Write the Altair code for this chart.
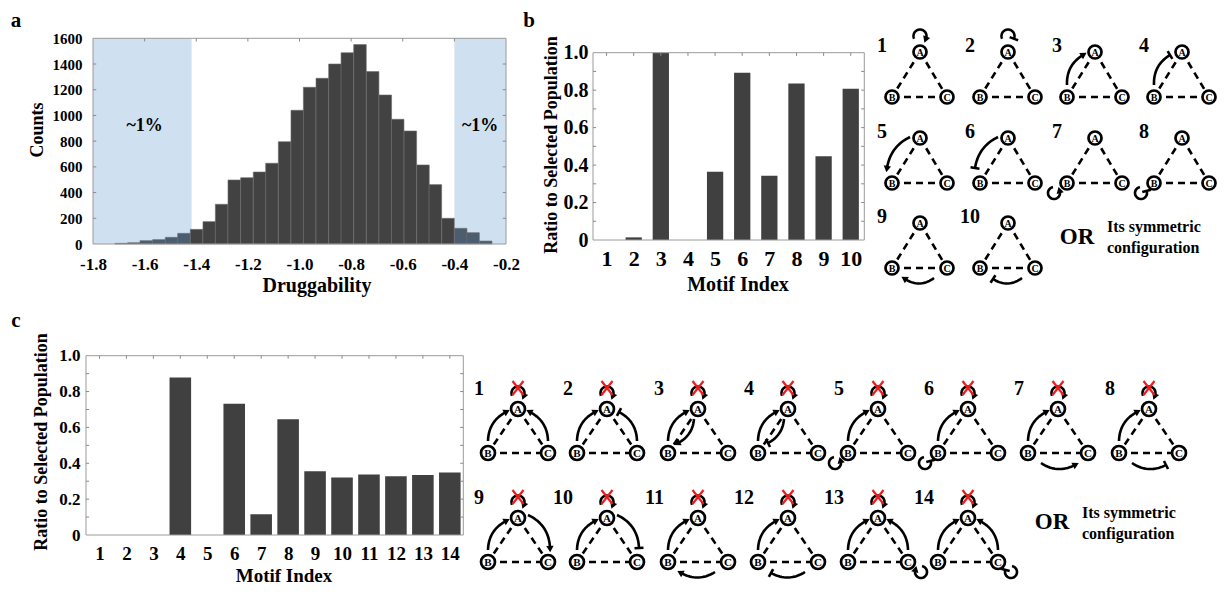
import math
import numpy as np
import pandas as pd
import altair as alt

FONT = "Liberation Serif"
W, H = 1212, 578

# ---------------- data ----------------
# panel a: histogram of druggability
hist_bin_left = [-1.715, -1.666, -1.618, -1.569, -1.520, -1.472, -1.423, -1.374, -1.326, -1.277,
                 -1.228, -1.179, -1.131, -1.082, -1.033, -0.985, -0.936, -0.887, -0.839, -0.790,
                 -0.741, -0.692, -0.644, -0.595, -0.546, -0.498, -0.449, -0.400, -0.352, -0.303]
hist_bin_width = 0.0487
hist_counts = [5, 10, 26, 34, 52, 83, 114, 174, 309, 498, 516, 560, 628, 796, 1040,
               1219, 1289, 1400, 1488, 1551, 1341, 1159, 970, 879, 615, 462, 200, 122, 88, 23]
hist_xticks = [-1.8, -1.6, -1.4, -1.2, -1.0, -0.8, -0.6, -0.4, -0.2]
hist_yticks = [0, 200, 400, 600, 800, 1000, 1200, 1400, 1600]
tail_lo = [-1.8, -0.4]
tail_hi = [-1.418, -0.2]
tail_label = ["~1%", "~1%"]
tail_label_x = [-1.6, -0.3]
tail_label_y = [915, 915]

# panel b
b_index = [1, 2, 3, 4, 5, 6, 7, 8, 9, 10]
b_ratio = [0.0, 0.014, 1.0, 0.0, 0.365, 0.893, 0.343, 0.836, 0.447, 0.808]
# panel c
c_index = [1, 2, 3, 4, 5, 6, 7, 8, 9, 10, 11, 12, 13, 14]
c_ratio = [0.0, 0.0, 0.0, 0.878, 0.0, 0.732, 0.116, 0.645, 0.355, 0.320, 0.338, 0.327, 0.335, 0.349]
ratio_ticks = [0, 0.2, 0.4, 0.6, 0.8, 1.0]
ratio_minor = [0.1, 0.2, 0.3, 0.4, 0.5, 0.6, 0.7, 0.8, 0.9]

# motif definitions (+ activation, - inhibition)
b_motif_edges = [["loopA+"], ["loopA-"], ["BA+"], ["BA-"], ["AB+"], ["AB-"],
                 ["loopB+"], ["loopB-"], ["CB+"], ["CB-"]]
c_motif_edges = [["BA+", "CA+"], ["BA+", "CA-"], ["BA+", "ABin+"], ["BA+", "ABin-"],
                 ["BA+", "loopB+"], ["BA+", "loopB-"], ["BA+", "BC+"], ["BA+", "BC-"],
                 ["BA+", "AC+"], ["BA+", "AC-"], ["BA+", "CB+"], ["BA+", "CB-"],
                 ["BA+", "CA+", "loopC+"], ["BA+", "CA+", "loopC-"]]

# ---------------- helpers ----------------
def lin(domain, rng):
    return alt.Scale(domain=domain, range=rng, nice=False, zero=False)


def lab_axis(orient, offset, values, size, pad, expr):
    return alt.Axis(orient=orient, offset=offset, values=values, labelFont=FONT,
                    labelFontSize=size, labelFontWeight="bold", labelColor="black",
                    labelPadding=pad, ticks=False, domain=False, grid=False,
                    labelFlush=False, labelOverlap=False, title=None, labelExpr=expr)


XA = lin([-1.8, -0.2], [85, 498])
YA = lin([0, 1600], [236, 30.3])
XB = lin([0.5, 10.5], [585, 856.3])
YB = lin([0, 1], [232, 44.7])
XC = lin([0.5, 14.5], [78, 455.3])
YC = lin([0, 1], [527, 347.7])
XS = lin([0, W], [0, W])
YS = lin([0, H], [0, H])

FRAME = "#9a9a9a"
TICK = "#8a8a8a"
BAR = "#404040"
LW = 2.6


def frame_layer(xs, ys, x0, x1, y0, y1):
    df = pd.DataFrame({"x0": [x0], "x1": [x1], "y0": [y0], "y1": [y1]})
    return alt.Chart(df).mark_rect(fillOpacity=0, stroke=FRAME, strokeWidth=1).encode(
        x=alt.X("x0:Q", scale=xs, axis=None), x2="x1:Q",
        y=alt.Y("y0:Q", scale=ys, axis=None), y2="y1:Q")


def rule_layer(xs, ys, rows, color=TICK, width=1.0):
    df = pd.DataFrame(rows, columns=["x", "x2", "y", "y2"])
    return alt.Chart(df).mark_rule(color=color, strokeWidth=width).encode(
        x=alt.X("x:Q", scale=xs, axis=None), x2="x2:Q",
        y=alt.Y("y:Q", scale=ys, axis=None), y2="y2:Q")


layers = []

# ---------------- panel a ----------------
shade_df = pd.DataFrame({"lo": tail_lo, "hi": tail_hi})
shade_df["y0"] = hist_yticks[0]
shade_df["y1"] = hist_yticks[-1]
layers.append(alt.Chart(shade_df).mark_rect(color="#cfe0f0").encode(
    x=alt.X("lo:Q", scale=XA, axis=None), x2="hi:Q",
    y=alt.Y("y0:Q", scale=YA, axis=None), y2="y1:Q"))

hist_df = pd.DataFrame({"left": hist_bin_left, "count": hist_counts})
hist_df["right"] = hist_df["left"] + hist_bin_width
hist_df["zero"] = 0
mid = hist_df["left"] + hist_bin_width / 2
hist_df["col"] = np.where((mid < tail_hi[0]) | (mid > tail_lo[1]), "#4c5d6f", "#424242")
layers.append(alt.Chart(hist_df).mark_rect(stroke="#6c6c6c", strokeWidth=0.6).encode(
    x=alt.X("left:Q", scale=XA,
            axis=lab_axis("bottom", 236 - H, hist_xticks, 17, 12,
                          "'-' + format(abs(datum.value), '.1f')")),
    x2="right:Q",
    y=alt.Y("zero:Q", scale=YA,
            axis=lab_axis("left", -85, hist_yticks, 15, 11, "format(datum.value, 'd')")),
    y2="count:Q",
    color=alt.Color("col:N", scale=None)))
layers.append(frame_layer(XA, YA, hist_xticks[0], hist_xticks[-1], hist_yticks[0], hist_yticks[-1]))
rows = []
for v in hist_yticks[1:-1]:
    rows.append((hist_xticks[0], hist_xticks[0] + 0.0125, v, v))
    rows.append((hist_xticks[-1], hist_xticks[-1] - 0.0125, v, v))
for v in hist_xticks[1:-1]:
    rows.append((v, v, hist_yticks[-1], hist_yticks[-1] - 25))
layers.append(rule_layer(XA, YA, rows))
tl_df = pd.DataFrame({"x": tail_label_x, "y": tail_label_y, "t": tail_label})
layers.append(alt.Chart(tl_df).mark_text(font=FONT, fontSize=18, fontWeight="bold", color="black").encode(
    x=alt.X("x:Q", scale=XA, axis=None), y=alt.Y("y:Q", scale=YA, axis=None), text="t:N"))


# ---------------- panels b and c (bars) ----------------
def bar_panel(idx, vals, xs, ys, half, bottom_px, left_px, xsize, xpad, ysize, ypad):
    df = pd.DataFrame({"i": idx, "v": vals})
    df["lo"] = df["i"] - half
    df["hi"] = df["i"] + half
    df["zero"] = 0.0
    out = [alt.Chart(df).mark_rect(color=BAR).encode(
        x=alt.X("lo:Q", scale=xs,
                axis=lab_axis("bottom", bottom_px - H, idx, xsize, xpad, "format(datum.value, 'd')")),
        x2="hi:Q",
        y=alt.Y("zero:Q", scale=ys,
                axis=lab_axis("left", -left_px, ratio_ticks, ysize, ypad,
                              "datum.value == 0 ? '0' : format(datum.value, '.1f')")),
        y2="v:Q")]
    x0, x1 = idx[0] - 0.5, idx[-1] + 0.5
    out.append(frame_layer(xs, ys, x0, x1, 0, 1))
    r = []
    for v in ratio_minor:
        r.append((x0, x0 + 0.115, v, v))
        r.append((x1, x1 - 0.115, v, v))
    for v in idx:
        r.append((v, v, 1.0, 1.0 - 0.017))
    out.append(rule_layer(xs, ys, r))
    return out


layers += bar_panel(b_index, b_ratio, XB, YB, 0.3, 232, 585, 22, 8, 20, 5)
layers += bar_panel(c_index, c_ratio, XC, YC, 0.4, 527, 78, 19, 9, 17, 6)


# ---------------- motif diagrams (canvas in page pixels) ----------------
def qbez(p0, p1, bulge, n=20):
    p0 = np.asarray(p0, float)
    p1 = np.asarray(p1, float)
    d = p1 - p0
    L = math.hypot(d[0], d[1])
    nrm = np.array([d[1], -d[0]]) / L
    ctrl = (p0 + p1) / 2 + nrm * 2 * bulge
    t = np.linspace(0, 1, n)[:, None]
    pts = (1 - t) ** 2 * p0 + 2 * (1 - t) * t * ctrl + t ** 2 * p1
    return pts, p1 - ctrl


def circ(c, r, t0, t1, n=28):
    t = np.radians(np.linspace(t0, t1, n))
    pts = np.stack([c[0] + r * np.cos(t), c[1] - r * np.sin(t)], axis=1)
    return pts, pts[-1] - pts[-2]


def edge_geom(kind, A, B, C):
    if kind == "loopA":
        return circ(A + np.array([0, -16]), 6.5, 205, -25)
    if kind == "loopB":
        return circ(B + np.array([-13, 10]), 6, 100, 380)
    if kind == "loopC":
        return circ(C + np.array([13, 10]), 6, 80, -200)
    table = {
        "BA": (B + [0, -12], A + [-12, 3], 5),
        "CA": (C + [0, -12], A + [12, 3], -5),
        "AB": (A + [-10, -1], B + [-5, -15], -5),
        "ABin": (A + [-4, 10], B + [10, -10], 4),
        "AC": (A + [10, -3], C + [2, -14], 6),
        "BC": (B + [13, 10], C + [-13, 12], -5),
        "CB": (C + [-13, 10], B + [13, 11], 5),
    }
    p0, p1, bulge = table[kind]
    return qbez(p0, p1, bulge)


line_rows, head_rows, tee_rows, node_rows, edge_rows, x_rows, lab_rows = [], [], [], [], [], [], []
gid = [0]


def add_motif(num, A, dxB, dxC, dy, kinds, node_size, letter_fs, crossed, lab_pos, lab_align):
    A = np.array(A, float)
    B = A + np.array([dxB, dy])
    C = A + np.array([dxC, dy])
    for P, Q in ((A, B), (A, C), (B, C)):
        edge_rows.append(dict(x=P[0], y=P[1], x2=Q[0], y2=Q[1]))
    ks = (["loopA+"] if crossed else []) + list(kinds)
    for k in ks:
        name, sign = k[:-1], k[-1]
        pts, tan = edge_geom(name, A, B, C)
        gid[0] += 1
        for i, (px, py) in enumerate(pts):
            line_rows.append(dict(g=gid[0], i=i, x=px, y=py))
        ex, ey = pts[-1]
        tl = math.hypot(tan[0], tan[1])
        ux, uy = tan[0] / tl, tan[1] / tl
        if sign == "+":
            head_rows.append(dict(x=ex + ux, y=ey + uy,
                                  ang=math.degrees(math.atan2(ux, -uy)) % 360))
        else:
            tee_rows.append(dict(x=ex - uy * 4.5, y=ey + ux * 4.5,
                                 x2=ex + uy * 4.5, y2=ey - ux * 4.5))
    for P, letter in ((A, "A"), (B, "B"), (C, "C")):
        node_rows.append(dict(x=P[0], y=P[1], s=node_size, t=letter, fs=letter_fs))
    if crossed:
        cx, cy = A[0], A[1] - 21
        x_rows.append(dict(x=cx - 5.5, y=cy - 7, x2=cx + 5.5, y2=cy + 7))
        x_rows.append(dict(x=cx + 5.5, y=cy - 7, x2=cx - 5.5, y2=cy + 7))
    lab_rows.append(dict(x=lab_pos[0], y=lab_pos[1], t=str(num), a=lab_align))


b_A_x = [912, 1000, 1087, 1174]
b_A_y = [44, 130, 215]
for k, kinds in enumerate(b_motif_edges):
    ax, ay = b_A_x[k % 4], b_A_y[k // 4]
    add_motif(k + 1, (ax, ay), -28, 27, 45, kinds, 170, 10, False, (ax - 38, ay - 6), "center")

c_A_x = [510, 599, 690, 780, 870, 960, 1050, 1141]
c_A_y = [401, 510]
for k, kinds in enumerate(c_motif_edges):
    ax, ay = c_A_x[k % 8], c_A_y[k // 8]
    add_motif(k + 1, (ax, ay), -30, 30, 44, kinds, 195, 11, True, (ax - 34, ay - 20), "right")


def cX(f):
    return alt.X(f, type="quantitative", scale=XS, axis=None)


def cY(f):
    return alt.Y(f, type="quantitative", scale=YS, axis=None)


layers.append(alt.Chart(pd.DataFrame(edge_rows)).mark_rule(
    color="black", strokeWidth=LW, strokeDash=[7, 5]).encode(
    x=cX("x"), y=cY("y"), x2="x2:Q", y2="y2:Q"))
layers.append(alt.Chart(pd.DataFrame(line_rows)).mark_line(
    color="black", strokeWidth=LW).encode(
    x=cX("x"), y=cY("y"), detail="g:N", order="i:Q"))
layers.append(alt.Chart(pd.DataFrame(head_rows)).mark_point(
    shape="triangle-up", filled=True, color="black", opacity=1, size=55).encode(
    x=cX("x"), y=cY("y"), angle=alt.Angle("ang:Q", scale=None)))
layers.append(alt.Chart(pd.DataFrame(tee_rows)).mark_rule(
    color="black", strokeWidth=LW).encode(
    x=cX("x"), y=cY("y"), x2="x2:Q", y2="y2:Q"))
layers.append(alt.Chart(pd.DataFrame(node_rows)).mark_point(
    shape="circle", filled=True, fill="white", stroke="black", strokeWidth=2.7, opacity=1).encode(
    x=cX("x"), y=cY("y"), size=alt.Size("s:Q", scale=None)))
layers.append(alt.Chart(pd.DataFrame(node_rows)).mark_text(
    font=FONT, fontWeight="bold", color="black", baseline="middle", dy=0.5).encode(
    x=cX("x"), y=cY("y"), text="t:N", size=alt.Size("fs:Q", scale=None)))
layers.append(alt.Chart(pd.DataFrame(x_rows)).mark_rule(
    color="#ee1c1c", strokeWidth=2.2).encode(
    x=cX("x"), y=cY("y"), x2="x2:Q", y2="y2:Q"))

lab_df = pd.DataFrame(lab_rows)
for al in ("center", "right"):
    layers.append(alt.Chart(lab_df[lab_df["a"] == al]).mark_text(
        font=FONT, fontSize=20, fontWeight="bold", color="black", align=al, baseline="middle").encode(
        x=cX("x"), y=cY("y"), text="t:N"))


def text_layer(rows, size, align="center", baseline="alphabetic", angle=0):
    df = pd.DataFrame(rows, columns=["x", "y", "t"])
    return alt.Chart(df).mark_text(font=FONT, fontSize=size, fontWeight="bold", color="black",
                                   align=align, baseline=baseline, angle=angle).encode(
        x=cX("x"), y=cY("y"), text="t:N")


# panel letters
layers.append(text_layer([(8, 13, "a"), (521, 13, "b"), (8, 313, "c")], 21, baseline="middle"))
# axis titles
layers.append(text_layer([(309, 284, "Druggability"), (730, 283, "Motif Index")], 20))
layers.append(text_layer([(276, 573.5, "Motif Index")], 19))
layers.append(text_layer([(35, 122, "Counts")], 18, angle=270))
layers.append(text_layer([(549, 137, "Ratio to Selected Population"),
                          (39, 434, "Ratio to Selected Population")], 18, angle=270))
# OR notes
layers.append(text_layer([(1069, 229, "OR"), (1044, 514, "OR")], 23, baseline="middle"))
layers.append(text_layer([(1099, 219, "Its symmetric"), (1099, 240, "configuration"),
                          (1074, 505, "Its symmetric"), (1074, 526, "configuration")],
                         16, align="left", baseline="middle"))

chart = alt.layer(*layers).resolve_scale(x="independent", y="independent").resolve_axis(
    x="independent", y="independent").properties(
    width=W, height=H, autosize=alt.AutoSizeParams(type="none"), padding=0
).configure_view(stroke=None)

chart.save("out.html", embed_options={"renderer": "svg", "actions": False})
